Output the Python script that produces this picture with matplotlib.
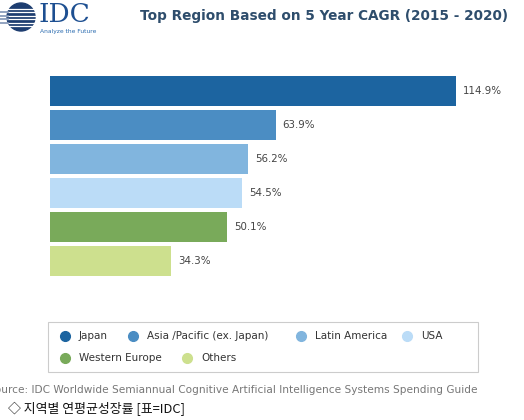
import matplotlib.pyplot as plt
from matplotlib.patches import Rectangle, Circle
from matplotlib.lines import Line2D

regions = ['Japan', 'Asia /Pacific (ex. Japan)', 'Latin America', 'USA', 'Western Europe', 'Others']
cagr = [114.9, 63.9, 56.2, 54.5, 50.1, 34.3]
colors = ['#1c64a0', '#4b8dc3', '#81b5de', '#bbdcf7', '#79aa5a', '#cde08e']

title = 'Top Region Based on 5 Year CAGR (2015 - 2020)'
source = 'Source: IDC Worldwide Semiannual Cognitive Artificial Intelligence Systems Spending Guide'
caption = '◇ 지역별 연평균성장률 [표=IDC]'

W, H = 524, 420


def px(x, y):
    # pixel coords (from top-left) -> figure fraction
    return x / W, 1 - y / H


fig = plt.figure(figsize=(W / 100, H / 100), dpi=100)

# bars
ax = fig.add_axes([50 / W, 1 - 278 / H, 459 / W, 204 / H])
ypos = list(range(len(regions)))
ax.barh(ypos, cagr, height=0.88, color=colors)
for y, v in zip(ypos, cagr):
    ax.annotate(f'{v:.1f}%', (v, y), xytext=(5, 0), textcoords='offset points',
                va='center', ha='left', fontsize=7.4, color='#444444')
ax.set_xlim(0, 130)
ax.set_ylim(5.5, -0.5)
ax.axis('off')

# title
fig.text(*px(324, 16), title, ha='center', va='center', fontsize=9.8,
         fontweight='bold', color='#2e4d6c')

# logo
lax = fig.add_axes([0, 1 - 34 / H, 40 / W, 34 / H])
lax.set_xlim(0, 40)
lax.set_ylim(0, 34)
lax.set_aspect('equal')
lax.axis('off')
lax.add_patch(Circle((21, 17), 14, color='#1d3d70'))
for yy in [8, 11.5, 15, 18.5, 22, 25.5]:
    lax.plot([2, 36], [yy, yy], color='white', lw=0.9)
for yy in [11.5, 15, 18.5, 22]:
    lax.plot([0, 8], [yy, yy], color='#7f93b5', lw=1.2)
fig.text(*px(39, 15), 'IDC', ha='left', va='center', fontsize=19,
         family='DejaVu Serif', color='#1d4f91')
fig.text(*px(40, 32), 'Analyze the Future', ha='left', va='center', fontsize=4.3,
         color='#2b6cb0')

# legend
fig.patches.append(Rectangle(px(48, 372), 430 / W, 50 / H, transform=fig.transFigure,
                             facecolor='white', edgecolor='#cccccc', lw=0.8))
legend_pos = [(65, 336), (133, 336), (301, 336), (407, 336), (65, 358), (187, 358)]
for (lx, ly), name, c in zip(legend_pos, regions, colors):
    fig.lines.append(Line2D([lx / W], [1 - ly / H], transform=fig.transFigure,
                            marker='o', markersize=7, color=c, linestyle='none'))
    fig.text(*px(lx + 14, ly), name, ha='left', va='center', fontsize=7.5, color='#333333')

# source and caption
fig.text(*px(478, 390), source, ha='right', va='center', fontsize=7.6, color='#777777')
fig.text(*px(8, 409), caption, ha='left', va='center', fontsize=9.3, color='#111111',
         family=['Noto Sans CJK KR', 'DejaVu Sans'])

fig.savefig('out.png', dpi=100, facecolor='white')
